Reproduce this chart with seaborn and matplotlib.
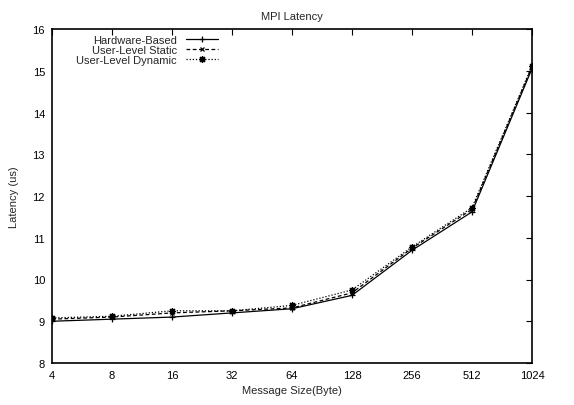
import matplotlib
matplotlib.use("Agg")
import matplotlib.pyplot as plt
import numpy as np
import pandas as pd
import seaborn as sns

# Message sizes (bytes) and latency readings (us) per implementation
sizes = [4, 8, 16, 32, 64, 128, 256, 512, 1024]
hardware_based = [9.00, 9.05, 9.10, 9.20, 9.30, 9.62, 10.70, 11.62, 15.05]
user_static = [9.05, 9.10, 9.20, 9.25, 9.32, 9.68, 10.75, 11.68, 15.10]
user_dynamic = [9.08, 9.12, 9.25, 9.25, 9.38, 9.75, 10.78, 11.72, 15.12]

series_names = ["Hardware-Based", "User-Level Static", "User-Level Dynamic"]
y_ticks = [8, 9, 10, 11, 12, 13, 14, 15, 16]

df = pd.DataFrame(
    {
        "size": sizes * 3,
        "latency": hardware_based + user_static + user_dynamic,
        "impl": np.repeat(series_names, len(sizes)),
    }
)

sns.set_theme(style="white")
plt.rcParams["font.family"] = ["Liberation Sans", "DejaVu Sans"]
plt.rcParams["font.size"] = 8

fig = plt.figure(figsize=(5.74, 4.06), dpi=100)
ax = fig.add_axes([52 / 574, 42 / 406, 480 / 574, 334 / 406])

styles = {
    "Hardware-Based": dict(linestyle="-", marker="+", markersize=5),
    "User-Level Static": dict(linestyle=(0, (3, 2)), marker="x", markersize=3.5),
    "User-Level Dynamic": dict(linestyle=(0, (1, 1.5)), marker=(8, 2, 0), markersize=5),
}
for name in series_names:
    sub = df[df["impl"] == name]
    sns.lineplot(
        data=sub, x="size", y="latency", ax=ax, color="black", linewidth=0.9,
        markeredgewidth=0.9, markeredgecolor="black", label=name, **styles[name]
    )

ax.set_xscale("log", base=2)
ax.set_xlim(4, 1024)
ax.set_ylim(8, 16)
ax.set_xticks(sizes)
ax.set_xticklabels([str(s) for s in sizes])
ax.minorticks_off()
ax.set_yticks(y_ticks)
ax.set_yticklabels([str(v) for v in y_ticks])

for sp in ax.spines.values():
    sp.set_color("black")
    sp.set_linewidth(1.2)
ax.tick_params(direction="in", length=4, width=0.8, colors="black",
               top=True, right=True, labelsize=8, pad=5)

ax.set_title("MPI Latency", fontsize=8, pad=7)
ax.set_xlabel("Message Size(Byte)", fontsize=8, labelpad=4)
ax.set_ylabel("Latency (us)", fontsize=8, labelpad=10)

leg = ax.legend(loc="upper left", bbox_to_anchor=(0.03, 1.012), frameon=False,
                markerfirst=False, fontsize=8, handlelength=2.9,
                handletextpad=0.8, labelspacing=0.0)

fig.savefig("out.png", dpi=100)
